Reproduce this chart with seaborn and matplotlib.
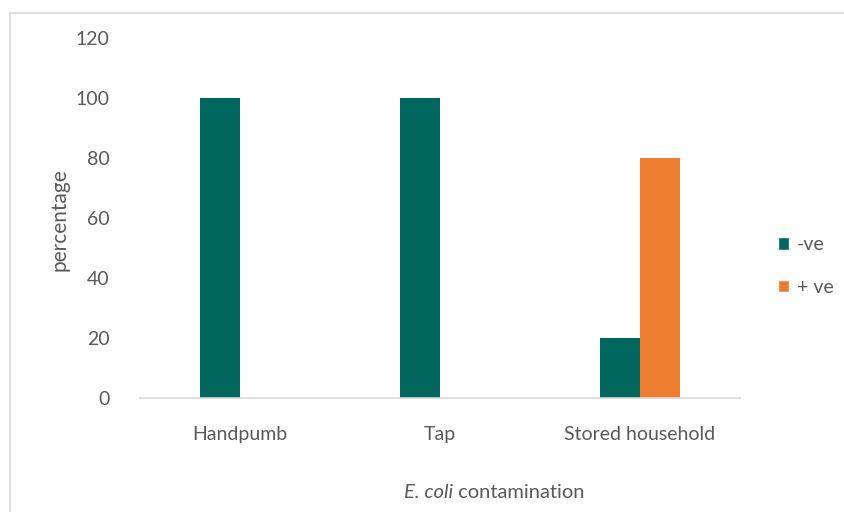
import matplotlib
matplotlib.use("Agg")
import matplotlib.pyplot as plt
import seaborn as sns
import pandas as pd
from matplotlib.patches import Rectangle, Patch

categories = ["Handpumb", "Tap", "Stored household"]
series_names = ["-ve", "+ ve"]
neg_values = [100, 100, 20]
pos_values = [0, 0, 80]
y_ticks = [0, 20, 40, 60, 80, 100, 120]

df = pd.DataFrame({
    "category": categories * 2,
    "series": [series_names[0]] * 3 + [series_names[1]] * 3,
    "value": neg_values + pos_values,
})

sns.set_theme(style="white")
plt.rcParams["font.family"] = ["Lato", "DejaVu Sans"]

teal = "#00665E"
orange = "#ED7D31"
gray_txt = "#595959"
fs = 14

fig = plt.figure(figsize=(8.45, 5.12), dpi=100)
ax = fig.add_axes([140 / 845, 1 - 398 / 512, 600 / 845, 360 / 512])

sns.barplot(data=df, x="category", y="value", hue="series", order=categories,
            hue_order=series_names, palette=[teal, orange], width=0.4,
            saturation=1, linewidth=0, ax=ax, legend=False)

ax.set_xlim(-0.5, 2.5)
ax.set_ylim(0, 120)
ax.set_yticks(y_ticks)
ax.set_yticklabels([str(t) for t in y_ticks], fontsize=fs, color=gray_txt)
ax.tick_params(axis="x", labelsize=fs, colors=gray_txt, length=0, pad=20)
ax.tick_params(axis="y", length=0, pad=22)
for lab in ax.get_xticklabels():
    lab.set_color(gray_txt)
for s in ["top", "right", "left"]:
    ax.spines[s].set_visible(False)
ax.spines["bottom"].set_color("#D9D9D9")
ax.spines["bottom"].set_linewidth(1.2)
ax.set_xlabel("")
ax.set_ylabel("")
ax.grid(False)

fig.text(60 / 845, 1 - 220 / 512, "percentage", rotation=90, ha="center", va="center",
         fontsize=15, color=gray_txt)
t1 = fig.text(404 / 845, 1 - 493 / 512, "E. coli", ha="left", va="center",
              fontsize=14.5, color=gray_txt, style="italic")
fig.text(0, 0, " contamination", fontsize=14.5, color=gray_txt, ha="left", va="bottom",
         transform=matplotlib.transforms.offset_copy(t1.get_transform(), fig=fig))
fig.texts[-1].remove()
ax.annotate(" contamination", xy=(1, 0), xycoords=t1, ha="left", va="bottom",
            fontsize=14.5, color=gray_txt, annotation_clip=False)

handles = [Patch(facecolor=teal, label=series_names[0]),
           Patch(facecolor=orange, label=series_names[1])]
fig.legend(handles=handles, loc="center left", bbox_to_anchor=(770 / 845, 1 - 266 / 512),
           frameon=False, fontsize=fs, handlelength=0.6, handleheight=0.6,
           labelspacing=1.3, handletextpad=0.4, labelcolor=gray_txt, borderaxespad=0)

fig.patches.append(Rectangle((10 / 845, -0.1), 1.0, 1 - 13 / 512 + 0.1,
                             transform=fig.transFigure, fill=False,
                             edgecolor="#D9D9D9", linewidth=1.2))

fig.savefig("out.png", dpi=100)
